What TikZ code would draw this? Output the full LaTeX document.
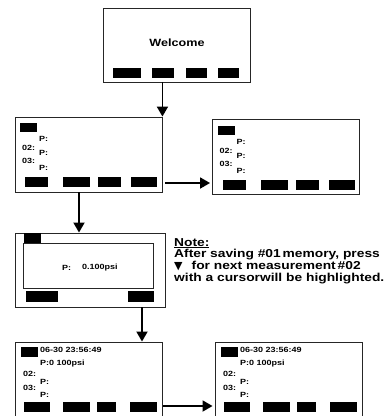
\documentclass[tikz,border=0pt]{standalone}
\usepackage{fontspec}
\usepackage{tikz}
\usetikzlibrary{arrows.meta}
\newfontfamily\lcd[FakeStretch=1.2]{Liberation Sans}
\newfontfamily\symb{DejaVu Sans}

\begin{document}
\begin{tikzpicture}
        [%%%%%%%%%%%%%%%%%%%%%%%%%%%%%%
        x=1pt, y=-1pt,
        screen/.style={draw=black!85, line width=0.9pt, inner sep=0pt},
        lbl/.style={anchor=west, inner sep=0pt, font=\lcd\bfseries\fontsize{7.5}{9}\selectfont},
        flow/.style={line width=1.8pt, -{Triangle[length=10pt,width=11pt]}},
        ]%%%%%%%%%%%%%%%%%%%%%%%%%%%%%%
        \useasboundingbox (0,0) rectangle (388,416);
        \clip (0,0) rectangle (388,416);
        % Welcome screen
        \node[screen, minimum width=147pt, minimum height=74pt] (welcome) at (176.5,45) {};
        \node[font=\lcd\bfseries\fontsize{10.5}{12}\selectfont] (welcome-txt) at (177,43) {Welcome};
        \foreach \a/\b in {113/141, 152/174, 186/207, 218/239}
          \fill (\a,68) rectangle (\b,78);
        % Memory list screens
        \foreach \s/\dx/\dy in {list/0/0, next/197.5/2.5}{
          \begin{scope}[shift={(\dx,\dy)}]
            \node[screen, minimum width=147pt, minimum height=75pt] (\s) at (88.5,154.5) {};
            \fill (20,123) rectangle (37,132);
            \node[lbl] (\s-p1) at (39,139) {P:};
            \node[lbl] (\s-n2) at (22,148) {02:};
            \node[lbl] (\s-p2) at (39,153) {P:};
            \node[lbl] (\s-n3) at (22,161) {03:};
            \node[lbl] (\s-p3) at (39,168) {P:};
            \foreach \a/\b in {25/48, 63/90, 98/121, 131/157}
              \fill (\a,177) rectangle (\b,187);
          \end{scope}
        }
        % Save screen
        \node[screen, minimum width=150pt, minimum height=74pt] (save) at (90,270) {};
        \draw[screen] (23,243) rectangle (153,288);
        \fill (24,233) rectangle (41,243);
        \node[lbl] (save-p) at (62,268) {P:};
        \node[lbl] (save-val) at (82,268) {0.100psi};
        \fill (26,291) rectangle (58,302);
        \fill (128,291) rectangle (154,302);
        % Result screens
        \foreach \s/\dx in {result/0, result2/200}{
          \begin{scope}[shift={(\dx,0)}]
            \node[screen, minimum width=147pt, minimum height=78pt] (\s) at (88.5,381) {};
            \fill (21,347) rectangle (38,357);
            \node[lbl] (\s-time) at (40,350) {06-30 23:56:49};
            \node[lbl] (\s-p1) at (40,364) {P:0 100psi};
            \node[lbl] (\s-n2) at (23,374) {02:};
            \node[lbl] (\s-p2) at (40,382) {P:};
            \node[lbl] (\s-n3) at (23,388) {03:};
            \node[lbl] (\s-p3) at (40,395) {P:};
            \foreach \a/\b in {24/50, 63/90, 97/116, 130/157}
              \fill (\a,402) rectangle (\b,412);
          \end{scope}
        }
        % Arrows
        \draw[flow] (welcome.south -| list.north east) -- (list.north east);
        \draw[flow] ([shift={(3pt,-28.5pt)}]list.east) -- ([shift={(-2pt,-28.5pt)}]list.east -| next.west);
        \draw[flow] ([xshift=-9.5pt]list.south) -- ([xshift=-9.5pt]list.south |- save.north);
        \draw[flow] ([xshift=52pt]save.south) -- ([xshift=52pt]save.south |- result.north);
        \draw[flow] ([shift={(1pt,-25pt)}]result.east) -- ([shift={(-2pt,-25pt)}]result.east -| result2.west);
        % Text
        \node[anchor=north west, inner sep=0pt, align=left,
              font=\lcd\bfseries\fontsize{11.5}{11.8}\selectfont] (note) at (174,238)
          {\underline{Note:}\\After saving \#01\,memory, press\\{\symb\fontsize{11}{11}\selectfont ▼}\hspace{9pt}for next measurement\,\#02\\with a cursorwill be highlighted.};
      \end{tikzpicture}
\end{document}
